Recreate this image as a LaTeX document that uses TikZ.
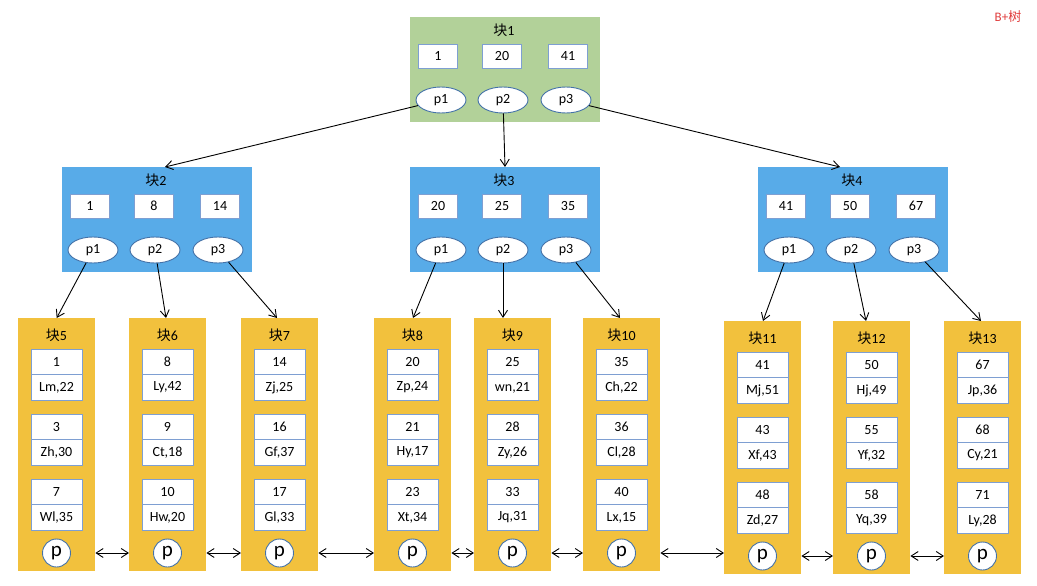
\documentclass[tikz,border=0pt]{standalone}
\usepackage{fontspec}
\setmainfont{Carlito}
\newfontfamily\cjk{Noto Sans CJK SC}
\usetikzlibrary{arrows.meta,shapes.geometric}
\definecolor{gfill}{HTML}{B2D199}
\definecolor{bfill}{HTML}{58ABE8}
\definecolor{yfill}{HTML}{F2C13D}
\definecolor{kborder}{HTML}{7E9FD2}
\definecolor{eborder}{HTML}{4472A8}
\definecolor{tred}{HTML}{E03C3C}
\tikzset{
  blk/.style={draw=none, anchor=north west, inner sep=0},
  ttl/.style={font=\fontsize{14}{14}\selectfont, inner sep=0},
  keybox/.style={draw=kborder, fill=white, line width=0.9pt, minimum width=39pt, minimum height=24pt, inner sep=0, font=\fontsize{14}{14}\selectfont},
  ptr/.style={ellipse, draw=eborder, fill=white, line width=0.9pt, minimum width=50pt, minimum height=26pt, inner sep=0, font=\fontsize{14}{14}\selectfont},
  cell/.style={draw=kborder, fill=white, line width=0.9pt, minimum width=51pt, minimum height=25.5pt, inner sep=0, font=\fontsize{14}{14}\selectfont},
  pc/.style={circle, draw=eborder, fill=white, line width=0.9pt, minimum size=28pt, inner sep=0, font=\fontsize{21}{21}\selectfont},
  arr/.style={-{Straight Barb[length=7pt,width=9pt]}, line width=0.9pt},
  darr/.style={{Straight Barb[length=7pt,width=9pt]}-{Straight Barb[length=7pt,width=9pt]}, line width=0.9pt},
}
\newcommand\inblock[8]{%
  \node[blk, fill=#4, minimum width=190pt, minimum height=105pt] (#1) at (#2,#3) {};
  \node[ttl] (#1t) at (#2+94,#3+13) {{\cjk 块}#5};
  \node[keybox] (#1k1) at (#2+28,#3+39) {#6};
  \node[keybox] (#1k2) at (#2+92,#3+39) {#7};
  \node[keybox] (#1k3) at (#2+158,#3+39) {#8};
  \node[ptr] (#1p1) at (#2+31,#3+83) {p1};
  \node[ptr] (#1p2) at (#2+93,#3+83) {p2};
  \node[ptr] (#1p3) at (#2+156,#3+83) {p3};
}
\newcommand\myleaf[8]{%
  \node[blk, fill=yfill, minimum width=77pt, minimum height=253pt] (#1) at (#2,#3) {};
  \node[ttl] (#1t) at (#2+38.5,#3+17) {{\cjk 块}#4};
  \node[cell] (#1a) at (#2+38.5,#3+44) {#5};
  \node[cell] (#1b) at (#2+38.5,#3+69.5) {#6};
  \node[cell] (#1c) at (#2+38.5,#3+109) {#7};
  \node[cell] (#1d) at (#2+38.5,#3+134.5) {#8};
  \node[pc] (#1p) at (#2+38.5,#3+235) {p};
}
\newcommand\myleafrest[5]{%
  \node[cell] (#1e) at (#2+38.5,#3+174) {#4};
  \node[cell] (#1f) at (#2+38.5,#3+199.5) {#5};
}
\begin{document}
\begin{tikzpicture}[x=1pt,y=-1pt]
\useasboundingbox (0,0) rectangle (1037,586);
\node[text=tred, font=\fontsize{13}{13}\selectfont, inner sep=0] (title) at (1008,17) {B+{\cjk 树}};
\inblock{b1}{410}{17}{gfill}{1}{1}{20}{41}
\inblock{b2}{62}{167}{bfill}{2}{1}{8}{14}
\inblock{b3}{410}{167}{bfill}{3}{20}{25}{35}
\inblock{b4}{758}{167}{bfill}{4}{41}{50}{67}
\myleaf{l5}{18}{318}{5}{1}{Lm,22}{3}{Zh,30}\myleafrest{l5}{18}{318}{7}{Wl,35}
\myleaf{l6}{129}{318}{6}{8}{Ly,42}{9}{Ct,18}\myleafrest{l6}{129}{318}{10}{Hw,20}
\myleaf{l7}{241}{318}{7}{14}{Zj,25}{16}{Gf,37}\myleafrest{l7}{241}{318}{17}{Gl,33}
\myleaf{l8}{374}{318}{8}{20}{Zp,24}{21}{Hy,17}\myleafrest{l8}{374}{318}{23}{Xt,34}
\myleaf{l9}{474}{318}{9}{25}{wn,21}{28}{Zy,26}\myleafrest{l9}{474}{318}{33}{Jq,31}
\myleaf{l10}{583}{318}{10}{35}{Ch,22}{36}{Cl,28}\myleafrest{l10}{583}{318}{40}{Lx,15}
\myleaf{l11}{724}{321}{11}{41}{Mj,51}{43}{Xf,43}\myleafrest{l11}{724}{321}{48}{Zd,27}
\myleaf{l12}{833}{321}{12}{50}{Hj,49}{55}{Yf,32}\myleafrest{l12}{833}{321}{58}{Yq,39}
\myleaf{l13}{944}{321}{13}{67}{Jp,36}{68}{Cy,21}\myleafrest{l13}{944}{321}{71}{Ly,28}
% root to internal
\draw[arr] (b1p1) -- ([xshift=103pt]b2.north west);
\draw[arr] (b1p2) -- ([xshift=95pt]b3.north west);
\draw[arr] (b1p3) -- ([xshift=82pt]b4.north west);
% internal to leaves
\draw[arr] (b2p1) -- (l5.north);
\draw[arr] (b2p2) -- ([xshift=37pt]l6.north west);
\draw[arr] (b2p3) -- ([xshift=36pt]l7.north west);
\draw[arr] (b3p1) -- ([xshift=39pt]l8.north west);
\draw[arr] (b3p2) -- ([xshift=29pt]l9.north west);
\draw[arr] (b3p3) -- ([xshift=37pt]l10.north west);
\draw[arr] (b4p1) -- ([xshift=39pt]l11.north west);
\draw[arr] (b4p2) -- ([xshift=33pt]l12.north west);
\draw[arr] (b4p3) -- ([xshift=37pt]l13.north west);
% leaf links
\draw[darr] (l5p -| l5.east) -- (l5p -| l6.west);
\draw[darr] (l6p -| l6.east) -- (l6p -| l7.west);
\draw[darr] (l7p -| l7.east) -- (l7p -| l8.west);
\draw[darr] (l8p -| l8.east) -- (l8p -| l9.west);
\draw[darr] (l9p -| l9.east) -- (l9p -| l10.west);
\draw[darr] (l10p -| l10.east) -- (l10p -| l11.west);
\draw[darr] (l11p -| l11.east) -- (l11p -| l12.west);
\draw[darr] (l12p -| l12.east) -- (l12p -| l13.west);
\end{tikzpicture}
\end{document}
